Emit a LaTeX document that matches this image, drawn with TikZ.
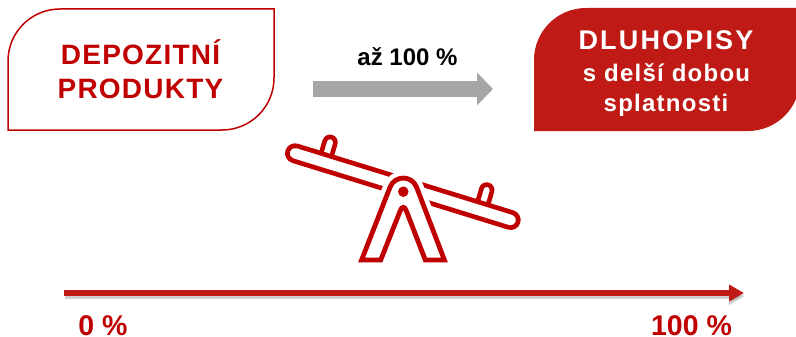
\documentclass[tikz,border=0pt]{standalone}
\usepackage{fontspec}
\usepackage{xcolor}
\usepackage{tikz}
\usetikzlibrary{arrows.meta}
\setmainfont{Liberation Sans}
\newfontfamily\spacedfont[LetterSpace=4.4]{Liberation Sans}
\newfontfamily\capsfont[LetterSpace=8]{Liberation Sans}
\newfontfamily\widefont[LetterSpace=5.2]{Liberation Sans}
\definecolor{SSRed}{HTML}{C00000}
\definecolor{SSFill}{HTML}{C01A17}
\definecolor{SSGray}{HTML}{A6A6A6}
\tikzset{
  boxlabel/.style={align=center,inner sep=0pt,font=\bfseries},
  scalelabel/.style={inner sep=0pt,text=SSRed,font=\bfseries\fontsize{28.5}{28.5}\selectfont},
  seesawred/.style={draw=SSRed,line cap=round},
}

\begin{document}
\begin{tikzpicture}[x=1pt,y=-1pt]
\useasboundingbox (0,0) rectangle (796,337);
\clip (0,0) rectangle (796,337);
% boxes
\draw[SSRed,line width=1.5pt] (8,130) [rounded corners=52pt] -- (8,9) [sharp corners] -- (274,9) [rounded corners=52pt] -- (274,130) [sharp corners] -- cycle;
\fill[SSFill] (534,131) [rounded corners=52pt] -- (534,8) [sharp corners] -- (800,8) [rounded corners=52pt] -- (800,131) [sharp corners] -- cycle;
\node[boxlabel,text=SSRed,font=\bfseries\spacedfont\fontsize{28}{34}\selectfont] (depo) at (140.5,69) {DEPOZITNÍ\\PRODUKTY};
\node[boxlabel,text=white,font=\bfseries\capsfont\fontsize{27}{27}\selectfont,anchor=base] (dluh) at (666,50) {DLUHOPISY};
\node[boxlabel,text=white,font=\bfseries\widefont\fontsize{24}{29}\selectfont,anchor=base] (delsi) at (666.5,82) {s delší dobou};
\node[boxlabel,text=white,font=\bfseries\widefont\fontsize{24}{29}\selectfont,anchor=base] (splat) at (666,111) {splatnosti};
% arrow between boxes
\node[boxlabel,font=\bfseries\fontsize{24}{24}\selectfont,anchor=base] (podil) at (407.5,66) {až 100 \%};
\coordinate (shiftA) at (313,89);
\coordinate (shiftB) at (493,89);
\draw[SSGray,line width=16pt,-{Triangle[length=16pt,width=32pt]}] (shiftA) -- (shiftB);
% seesaw
\coordinate (plankL) at (295,153.3);
\coordinate (plankR) at (510.7,220);
\foreach \a/\b in {330/142.3,486.7/190} {
  \draw[seesawred,line width=15.5pt] (\a-5,\b+17) -- (\a,\b);
  \draw[white,line width=6pt,line cap=round] (\a-5,\b+17) -- (\a,\b);
}
\draw[seesawred,line width=20pt] (plankL) -- (plankR);
\draw[white,line width=10.5pt,line cap=round] (plankL) -- (plankR);
\path[fill=white,draw=white,line width=14pt] (361.6,260) -- (390.1,187) .. controls (394.9,175.1) and (411.7,175.1) .. (416.5,187) -- (444.4,260) -- cycle;
\fill[white] (345,262.5) rectangle (460,275);
\draw[SSRed,line width=4.8pt] (361.6,260) -- (390.1,187) .. controls (394.9,175.1) and (411.7,175.1) .. (416.5,187) -- (444.4,260) -- (425.3,260) [rounded corners=8pt] -- (403.3,203) [sharp corners] -- (380.7,260) -- cycle;
\node[circle,fill=SSRed,inner sep=0pt,minimum size=10.5pt] (pivot) at (403.3,191.7) {};
% scale
\coordinate (scaleA) at (64,293);
\coordinate (scaleB) at (744,293);
\draw[black,opacity=.18,line width=5pt,-{Triangle[length=16pt,width=17pt]}] ([shift={(1,3)}]scaleA) -- ([shift={(1,3)}]scaleB);
\draw[SSFill,line width=5.5pt,-{Triangle[length=15pt,width=16pt]}] (scaleA) -- (scaleB);
\node[scalelabel,anchor=base] (nula) at (103,335) {0 \%};
\node[scalelabel,anchor=base] (sto) at (691.5,335) {100 \%};
\end{tikzpicture}
\end{document}
